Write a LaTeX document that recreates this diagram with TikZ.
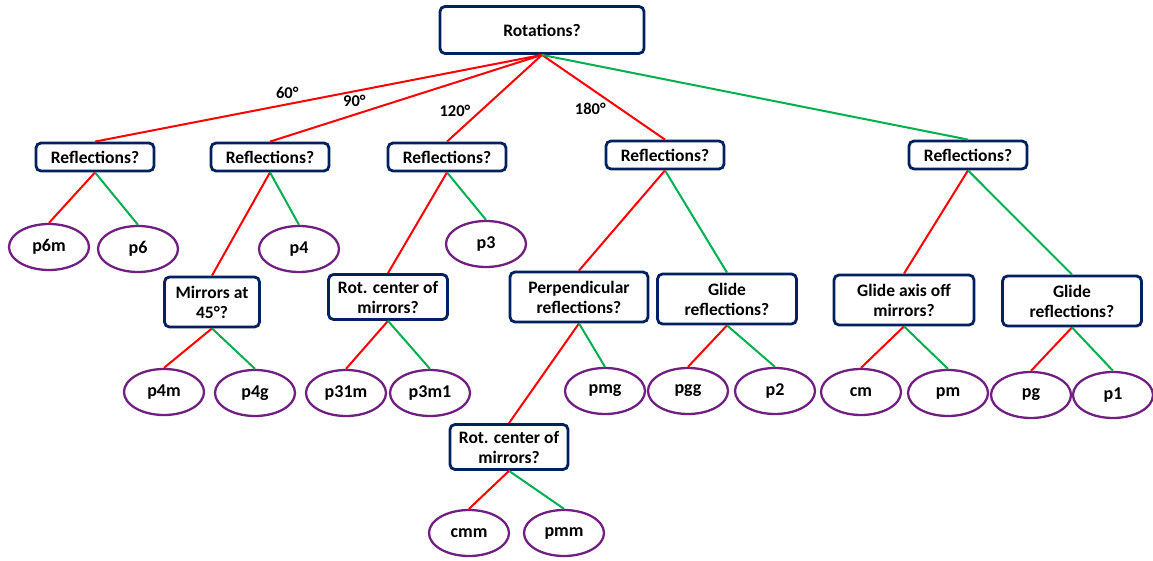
\documentclass[tikz,border=0pt]{standalone}
\usepackage{fontspec}
\setmainfont{Carlito}
\usetikzlibrary{shapes.geometric}
\usetikzlibrary{positioning}
\definecolor{boxblue}{RGB}{0,32,96}
\definecolor{leafpurple}{RGB}{112,32,128}
\definecolor{yesred}{RGB}{255,0,0}
\definecolor{nogreen}{RGB}{0,176,80}
\tikzset{question/.style={rectangle,rounded corners=5pt,draw=boxblue,line width=2.8pt,fill=white,align=center,inner xsep=6pt,minimum height=28pt,font=\bfseries\fontsize{17.5}{20}\selectfont}}
\tikzset{twoline/.style={question,minimum height=50pt}}
\tikzset{group/.style={ellipse,draw=leafpurple,line width=2.3pt,fill=white,minimum width=80pt,minimum height=46pt,inner sep=1pt,font=\bfseries\fontsize{18}{20}\selectfont}}
\tikzset{yes/.style={draw=yesred,line width=2pt}}
\tikzset{no/.style={draw=nogreen,line width=2pt}}
\tikzset{angle/.style={font=\bfseries\fontsize{16.5}{18}\selectfont,inner sep=2pt}}

\begin{document}
\begin{tikzpicture}[x=1pt,y=-1pt]
  \useasboundingbox (0,0) rectangle (1153,561);

  \node [question,minimum width=204pt,minimum height=47pt] (rot) at (542,30) {Rotations?};

  \node [question,minimum width=118pt] (refA) at (95,157) {Reflections?};
  \node [question,minimum width=118pt] (refB) at (270,157) {Reflections?};
  \node [question,minimum width=118pt] (refC) at (447,157) {Reflections?};
  \node [question,minimum width=118pt] (refD) at (665,155) {Reflections?};
  \node [question,minimum width=118pt] (refE) at (968,155) {Reflections?};

  \node [group] (psixm) at (49,247) {p6m};
  \node [group] (psix) at (138,249) {p6};
  \node [group] (pfour) at (299,249) {p4};
  \node [group] (pthree) at (486,244) {p3};

  \node [twoline,minimum width=95pt] (mirrors) at (212,302) {Mirrors at\\45°?};
  \node [twoline,minimum width=119pt,minimum height=45pt] (centerA) at (388,297) {Rot. center of\\mirrors?};
  \node [twoline,minimum width=138pt] (perp) at (579,297) {Perpendicular\\reflections?};
  \node [twoline,minimum width=139pt] (glideA) at (727,299) {Glide\\reflections?};
  \node [twoline,minimum width=140pt] (axis) at (904,300) {Glide axis off\\mirrors?};
  \node [twoline,minimum width=139pt] (glideB) at (1072,301) {Glide\\reflections?};

  \node [group] (pfourm) at (164,392) {p4m};
  \node [group] (pfourg) at (255,393) {p4g};
  \node [group] (pthreeonem) at (346,393) {p31m};
  \node [group] (pthreemone) at (430,393) {p3m1};
  \node [group] (pmg) at (605,391) {pmg};
  \node [group] (pgg) at (688,391) {pgg};
  \node [group] (ptwo) at (775,391) {p2};
  \node [group] (cm) at (861,392) {cm};
  \node [group] (pm) at (948,393) {pm};
  \node [group] (pg) at (1031,395) {pg};
  \node [group] (pone) at (1113,395) {p1};

  \node [twoline,minimum width=118pt,minimum height=45pt] (centerB) at (509,447) {Rot. center of\\mirrors?};

  \node [group] (cmm) at (469,533) {cmm};
  \node [group] (pmm) at (564,533) {pmm};

  \path (rot.south) edge [yes] node [angle,pos=0.57,above=3pt] {60°} (refA.north)
                    edge [yes] node [angle,pos=0.69,above=5pt] {90°} (refB.north)
                    edge [yes] node [angle,pos=0.65,left=7pt] {120°} (refC.north)
                    edge [yes] node [angle,pos=0.64,left=12pt] {180°} (refD.north)
                    edge [no] (refE.north);

  \path (refA.south) edge [yes] (psixm.north) edge [no] (psix.north);
  \path (refB.south) edge [yes] (mirrors.north) edge [no] (pfour.north);
  \path (refC.south) edge [yes] (centerA.north) edge [no] (pthree.north);
  \path (refD.south) edge [yes] (perp.north) edge [no] (glideA.north);
  \path (refE.south) edge [yes] (axis.north) edge [no] (glideB.north);

  \path (mirrors.south) edge [yes] (pfourm.north) edge [no] (pfourg.north);
  \path (centerA.south) edge [yes] (pthreeonem.north) edge [no] (pthreemone.north);
  \path (perp.south) edge [yes] (centerB.north) edge [no] (pmg.north);
  \path (glideA.south) edge [yes] (pgg.north) edge [no] (ptwo.north);
  \path (axis.south) edge [yes] (cm.north) edge [no] (pm.north);
  \path (glideB.south) edge [yes] (pg.north) edge [no] (pone.north);
  \path (centerB.south) edge [yes] (cmm.north) edge [no] (pmm.north);
\end{tikzpicture}
\end{document}
